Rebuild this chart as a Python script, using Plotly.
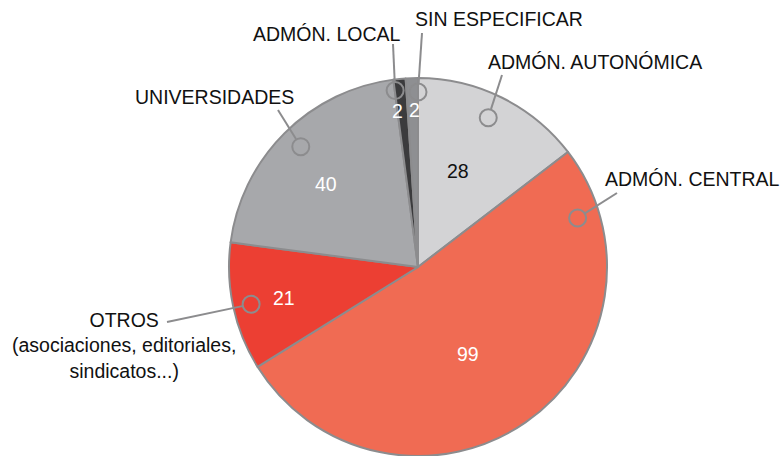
import math
import plotly.graph_objects as go

categorias = ["ADMÓN. AUTONÓMICA", "ADMÓN. CENTRAL", "OTROS", "UNIVERSIDADES",
              "ADMÓN. LOCAL", "SIN ESPECIFICAR"]
valores = [28, 99, 21, 40, 2, 2]
colores = ["#d3d3d5", "#f06b53", "#ec3f33", "#a7a8ab", "#3b3b3d", "#8e8f92"]
color_texto = ["#111111", "white", "white", "white", "white", "white"]
etiquetas = ["ADMÓN. AUTONÓMICA", "ADMÓN. CENTRAL",
             "OTROS<br>(asociaciones, editoriales,<br>sindicatos...)",
             "UNIVERSIDADES", "ADMÓN. LOCAL", "SIN ESPECIFICAR"]

W, H = 780, 456
CX, CY, R = 418, 267, 189
GRIS = "#8c8c8e"
FONT = "Liberation Sans, Arial, sans-serif"
FS = 19.5

# label placement: (text x, text y, xanchor, line end x, line end y)
pos_etiquetas = [
    (486, 62, "left", 502, 75),
    (603, 179, "left", 617, 193),
    (124, 345, "center", 167, 322),
    (296, 97, "right", 278, 110),
    (403, 34, "right", 393, 44),
    (413, 19, "left", 422, 33),
]
# callout circle: (fraction inside slice, radius px)
pos_circulos = [(0.48, 165), (0.11, 167), (0.49, 171), (0.51, 168), (0.03, 178), (1.0, 175)]
# value text: (fraction inside slice, radius px)
pos_valores = [(0.43, 104), (0.525, 100), (0.48, 137), (0.46, 124), (0.0, 157), (0.65, 157)]

fig = go.Figure(go.Pie(
    labels=categorias, values=valores, sort=False, direction="clockwise",
    rotation=0, textinfo="none",
    marker=dict(colors=colores, line=dict(color=GRIS, width=2)),
    domain=dict(x=[(CX - R - 1) / W, (CX + R + 1) / W], y=[0, (2 * R) / H]),
    showlegend=False, hoverinfo="label+value",
))

def px2paper(x, y):
    return x / W, 1 - y / H

def polar(frac_ini, frac_fin, f, r):
    a = (frac_ini + (frac_fin - frac_ini) * f) * 2 * math.pi
    return CX + r * math.sin(a), CY - r * math.cos(a)

shapes, annotations = [], []
total = sum(valores)
acum = 0
for i, v in enumerate(valores):
    ini, fin = acum / total, (acum + v) / total
    acum += v
    tx, ty, anc, lx, ly = pos_etiquetas[i]
    ccx, ccy = polar(ini, fin, *pos_circulos[i])
    d = math.hypot(lx - ccx, ly - ccy)
    ex = ccx + (lx - ccx) * 9 / d
    ey = ccy + (ly - ccy) * 9 / d
    x0, y0 = px2paper(lx, ly)
    x1, y1 = px2paper(ex, ey)
    shapes.append(dict(type="line", xref="paper", yref="paper", x0=x0, y0=y0,
                       x1=x1, y1=y1, line=dict(color=GRIS, width=2)))
    ax, ay = px2paper(ccx, ccy)
    shapes.append(dict(type="circle", xref="paper", yref="paper",
                       xsizemode="pixel", ysizemode="pixel", xanchor=ax, yanchor=ay,
                       x0=-8.5, x1=8.5, y0=-8.5, y1=8.5,
                       line=dict(color=GRIS, width=2)))
    ax, ay = px2paper(tx, ty)
    annotations.append(dict(text=etiquetas[i], x=ax, y=ay, xref="paper", yref="paper",
                            xanchor=anc, yanchor="middle", showarrow=False,
                            align="center", font=dict(size=FS, color="#111111", family=FONT)))
    vx, vy = px2paper(*polar(ini, fin, *pos_valores[i]))
    annotations.append(dict(text=str(v), x=vx, y=vy, xref="paper", yref="paper",
                            xanchor="center", yanchor="middle", showarrow=False,
                            font=dict(size=FS, color=color_texto[i], family=FONT)))

fig.update_layout(
    width=W, height=H, margin=dict(l=0, r=0, t=0, b=0),
    paper_bgcolor="white", plot_bgcolor="white",
    shapes=shapes, annotations=annotations,
)
fig.write_html("out.html", config={"displayModeBar": False},
               post_script="document.body.style.margin='0';")
